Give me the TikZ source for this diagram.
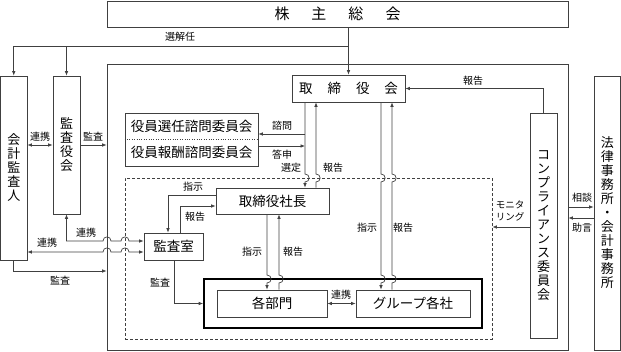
\documentclass[tikz,border=0pt]{standalone}
\usepackage{fontspec}
\setmainfont{Noto Sans CJK JP}
\usepackage{tikz}
\usetikzlibrary{arrows.meta,calc,positioning}

\definecolor{lncol}{gray}{0.25}
\tikzset{
  box/.style={draw=lncol,line width=0.7pt,inner sep=0pt,
    font=\fontsize{13.5}{15}\selectfont},
  vbox/.style={box,align=center,font=\fontsize{13}{14}\selectfont},
  lbl/.style={font=\fontsize{10}{11}\selectfont,inner sep=1pt},
  link/.style={draw=lncol,line width=0.7pt}
}

\begin{document}
\begin{tikzpicture}[x=1pt,y=-1pt,>={Latex[length=4.5pt,width=3.6pt]}]
  \useasboundingbox (0,0) rectangle (621,351);
  % boxes
  \node[box,minimum width=461pt,minimum height=26pt] (gm) at (337.5,14)
    {\fontsize{15}{16}\selectfont 株\hspace{22pt}主\hspace{22pt}総\hspace{22pt}会};
  \node[box,minimum width=461pt,minimum height=286pt] (co) at (337.5,207) {};
  \node[box,draw=lncol,dash pattern=on 3pt off 2pt,minimum width=367pt,minimum height=161pt] (dsh) at (308.5,258.5) {};
  \node[vbox,minimum width=26.5pt,minimum height=184pt] (auditor) at (13.75,168) {会\\計\\監\\査\\人};
  \node[vbox,minimum width=27pt,minimum height=138pt] (kansa) at (66.5,145) {監\\査\\役\\会};
  \node[box,minimum width=113pt,minimum height=27pt] (board) at (348.5,88.5)
    {取\hspace{15pt}締\hspace{15pt}役\hspace{15pt}会};
  \node[box,align=center,minimum width=133pt,minimum height=53pt,
    font=\fontsize{13.5}{26}\selectfont] (cmt) at (191.5,139.5) {役員選任諮問委員会\\役員報酬諮問委員会};
  \draw[lncol,dotted] (cmt.west) -- (cmt.east);
  \node[box,minimum width=113pt,minimum height=26pt] (ceo) at (272.5,201) {取締役社長};
  \node[box,minimum width=59pt,minimum height=27pt] (aud) at (173.5,246.5) {監査室};
  \node[box,draw=black,line width=1.6pt,minimum width=278pt,minimum height=49pt] (grp) at (343,303.5) {};
  \node[box,minimum width=110pt,minimum height=27pt] (dept) at (272,303.5) {各部門};
  \node[box,minimum width=114pt,minimum height=27pt] (gco) at (413,303.5) {グループ各社};
  \node[vbox,minimum width=27pt,minimum height=225pt] (comp) at (543.5,225.5)
    {コ\\ン\\プ\\ラ\\イ\\ア\\ン\\ス\\委\\員\\会};
  \node[vbox,minimum width=26.5pt,minimum height=274pt] (law) at (607.25,213)
    {法\\律\\事\\務\\所\\・\\会\\計\\事\\務\\所};

  % shareholders
  \coordinate (sel) at (348.5,46);
  \draw[link,->] (gm.south -| board.north) -- (board.north);
  \draw[link,->] (sel) -| (auditor.north);
  \draw[link,->] (sel -| kansa.north) -- (kansa.north);
  \node[lbl] (lsel) at (180,37) {選解任};

  % auditors
  \draw[link,<->] (auditor.east |- 0,145) -- (kansa.west |- 0,145);
  \node[lbl] (lrk1) at (40,137) {連携};
  \draw[link,->] (kansa.east |- 0,145) -- (co.west |- 0,145);
  \node[lbl] (lka1) at (93,137) {監査};
  \draw[link,<->] (kansa.south) |- (103,241)
    .. controls (103,235.5) and (111,235.5) .. (111,241) -- (121,241)
    .. controls (121,235.5) and (129,235.5) .. (129,241) -- (aud.west |- 0,241);
  \node[lbl] (lrk2) at (86,233) {連携};
  \draw[link,<->] (auditor.east |- 0,252) -- (103,252)
    .. controls (103,246.5) and (111,246.5) .. (111,252) -- (121,252)
    .. controls (121,246.5) and (129,246.5) .. (129,252) -- (aud.west |- 0,252);
  \node[lbl] (lrk3) at (47,243) {連携};
  \draw[link,->] (auditor.south) |- (co.west |- 0,271);
  \node[lbl] (lka2) at (60,281) {監査};

  % audit office
  \draw[link,->] (ceo.west |- 0,195) -| (aud.north -| 168,0);
  \node[lbl] (lsj1) at (193,187) {指示};
  \draw[link,->] (aud.north -| 180,0) |- (ceo.west |- 0,206);
  \node[lbl] (lhk1) at (195,217) {報告};
  \draw[link,->] (aud.south -| 174,0) |- (grp.west);
  \node[lbl] (lka3) at (160,283) {監査};

  % board
  \coordinate (qa) at (305,134);
  \coordinate (qb) at (305,146);
  \draw[link,->] (board.south -| 305,0) -- (305,174)
    .. controls (310.5,174) and (310.5,182) .. (305,182) -- (ceo.north -| 305,0);
  \draw[link,->] (qa) -- (cmt.east |- qa);
  \draw[link,->] (cmt.east |- qb) -- (qb);
  \node[lbl] (lsm) at (282,126) {諮問};
  \node[lbl] (lts) at (282,155) {答申};
  \node[lbl] (lst) at (291,168) {選定};
  \draw[link,->] (ceo.north -| 316,0) -- (316,182)
    .. controls (321.5,182) and (321.5,174) .. (316,174) -- (board.south -| 316,0);
  \node[lbl] (lhk2) at (333,168) {報告};
  \draw[link,->] (board.south -| 381,0) -- (381,174)
    .. controls (386.5,174) and (386.5,182) .. (381,182) -- (381,275)
    .. controls (386.5,275) and (386.5,283) .. (381,283) -- (gco.north -| 381,0);
  \node[lbl] (lsj2) at (367,228) {指示};
  \draw[link,->] (gco.north -| 392,0) -- (392,283)
    .. controls (397.5,283) and (397.5,275) .. (392,275) -- (392,182)
    .. controls (397.5,182) and (397.5,174) .. (392,174) -- (board.south -| 392,0);
  \node[lbl] (lhk3) at (403,228) {報告};

  % president
  \draw[link,->] (ceo.south -| 267,0) -- (267,275)
    .. controls (272.5,275) and (272.5,283) .. (267,283) -- (dept.north -| 267,0);
  \node[lbl] (lsj3) at (252,252) {指示};
  \draw[link,->] (dept.north -| 279,0) -- (279,283)
    .. controls (284.5,283) and (284.5,275) .. (279,275) -- (ceo.south -| 279,0);
  \node[lbl] (lhk4) at (293,252) {報告};
  \draw[link,<->] (dept) -- (gco);
  \node[lbl] (lrk4) at (341,295) {連携};

  % compliance
  \draw[link,->] (comp.north) |- (board.east);
  \node[lbl] (lhk5) at (473,81) {報告};
  \draw[link,->] (comp.west |- 0,227) -- (dsh.east |- 0,227);
  \node[lbl,align=center,font=\fontsize{9.5}{11.5}\selectfont] (lmn) at (510,211) {モニタ\\リング};
  \draw[link,->] (co.east |- 0,207) -- (law.west |- 0,207);
  \node[lbl] (lsd) at (582,198) {相談};
  \draw[link,->] (law.west |- 0,218) -- (co.east |- 0,218);
  \node[lbl] (ljg) at (582,228) {助言};
\end{tikzpicture}
\end{document}
